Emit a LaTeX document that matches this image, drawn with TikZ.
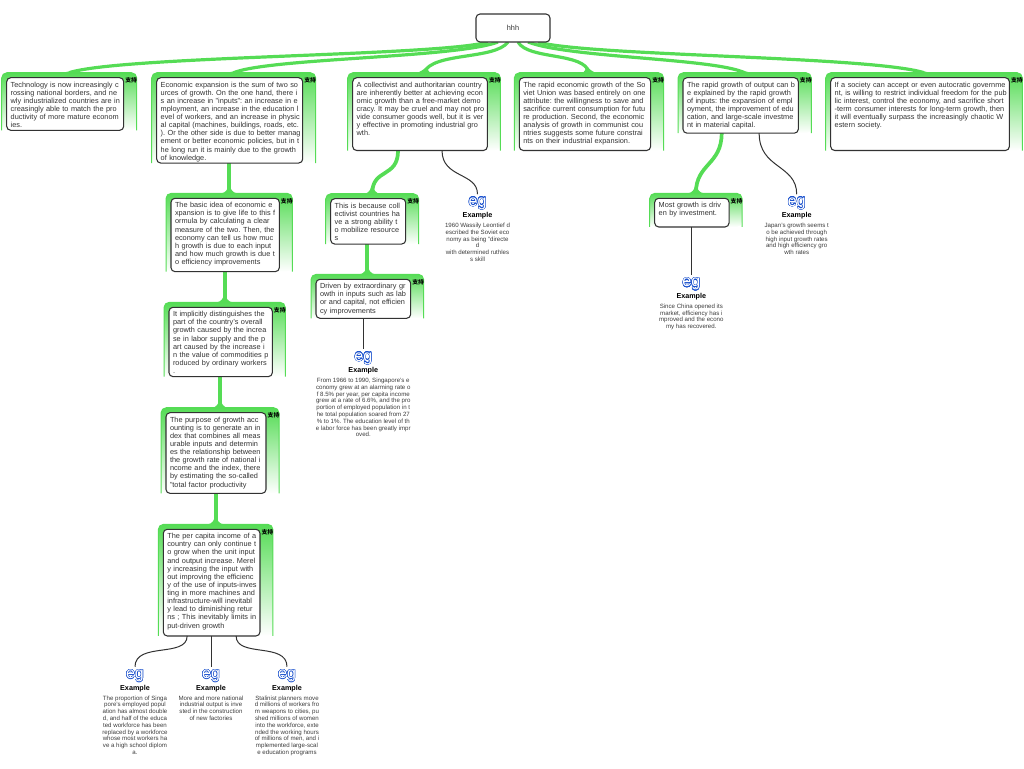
\documentclass[tikz,border=0pt]{standalone}
\usepackage{fontspec}
\setmainfont{Liberation Sans}
\newfontfamily\cjkfont{Noto Sans CJK SC}
\usepackage[copies]{contour}
\usetikzlibrary{positioning,backgrounds}
\definecolor{panelgreen}{RGB}{85,220,85}
\definecolor{egblue}{RGB}{25,80,205}
\definecolor{boxline}{RGB}{50,50,50}
\definecolor{egtextgray}{RGB}{60,60,60}
\contourlength{0.3pt}
\frenchspacing

\begin{document}
\begin{tikzpicture}[x=0.75pt, y=-0.75pt]
    \tikzstyle{rootbox} = [rectangle, draw=boxline, fill=white, rounded corners=3pt, line width=0.8pt,
        minimum width=55.5pt, minimum height=21pt, outer sep=0pt, text=black!80,
        font=\fontsize{5.5pt}{6.1pt}\selectfont]
    \tikzstyle{topic} = [rectangle, draw=boxline, fill=white, rounded corners=3pt, line width=0.8pt,
        anchor=north west, align=left, inner xsep=3pt, inner ysep=1pt, outer sep=0pt, text=black!80,
        font=\fontsize{5.5pt}{6.1pt}\selectfont,
        execute at begin node={\rightskip=-8pt plus 1fil\relax\rule{0pt}{6pt}}]
    \tikzstyle{tag} = [inner sep=0pt, font=\cjkfont\bfseries\fontsize{4.4pt}{4.4pt}\selectfont]
    \tikzstyle{egicon} = [inner sep=0pt, minimum height=10.5pt, text height=6.2pt, text depth=2.5pt,
        text=white, font=\fontsize{12pt}{12pt}\selectfont]
    \tikzstyle{eghead} = [inner sep=0pt, font=\bfseries\fontsize{5.4pt}{5.4pt}\selectfont]
    \tikzstyle{egtext} = [inner sep=0pt, align=center, text=egtextgray, font=\fontsize{4.6pt}{5.1pt}\selectfont]
    \tikzstyle{branch} = [panelgreen, line width=2.4pt]
    \tikzstyle{stem} = [panelgreen, line width=2.8pt]
    \tikzstyle{twig} = [boxline, line width=0.75pt]

    \useasboundingbox (0,0) rectangle (1024,768);

    \node [rootbox] (root) at (513,28) {hhh};

    \node [topic, text width=81.75pt, text depth=31.45pt] (tech) at (6.7,77.7)
        {Technology is now increasingly c\\rossing national borders, and ne\\wly industrialized countries are in\\creasingly able to match the pro\\ductivity of more mature econom\\ies.};
    \node [topic, text width=103.5pt, text depth=56pt] (expansion) at (156.7,77.7)
        {Economic expansion is the sum of two so\\urces of growth. On the one hand, there i\\s an increase in "inputs": an increase in e\\mployment, an increase in the education l\\evel of workers, and an increase in physic\\al capital (machines, buildings, roads, etc.\\). Or the other side is due to better manag\\ement or better economic policies, but in t\\he long run it is mainly due to the growth\\of knowledge.};
    \node [topic, text width=95pt, text depth=46.6pt] (collective) at (352.7,77.7)
        {A collectivist and authoritarian country\\are inherently better at achieving econ\\omic growth than a free-market demo\\cracy. It may be cruel and may not pro\\vide consumer goods well, but it is ver\\y effective in promoting industrial gro\\wth.};
    \node [topic, text width=92.5pt, text depth=46.6pt] (soviet) at (519.3,77.7)
        {The rapid economic growth of the So\\viet Union was based entirely on one\\attribute: the willingness to save and\\sacrifice current consumption for futu\\re production. Second, the economic\\analysis of growth in communist cou\\ntries suggests some future constrai\\nts on their industrial expansion.};
    \node [topic, text width=80.5pt, text depth=33.6pt] (output) at (683,77.7)
        {The rapid growth of output can b\\e explained by the rapid growth\\of inputs: the expansion of empl\\oyment, the improvement of edu\\cation, and large-scale investme\\nt in material capital.};
    \node [topic, text width=128pt, text depth=46.6pt] (society) at (830.7,77.7)
        {If a society can accept or even autocratic governme\\nt, is willing to restrict individual freedom for the pub\\lic interest, control the economy, and sacrifice short\\-term consumer interests for long-term growth, then\\it will eventually surpass the increasingly chaotic W\\estern society.};

    \node [topic, text width=75.25pt, text depth=47pt] (basic) at (171,198.3)
        {The basic idea of economic e\\xpansion is to give life to this f\\ormula by calculating a clear\\measure of the two. Then, the\\economy can tell us how muc\\h growth is due to each input\\and how much growth is due t\\o efficiency improvements};
    \node [topic, text width=71.5pt, text depth=44pt] (distinguish) at (169,307.3)
        {It implicitly distinguishes the\\part of the country's overall\\growth caused by the increa\\se in labor supply and the p\\art caused by the increase i\\n the value of commodities p\\roduced by ordinary workers\\.};
    \node [topic, text width=69pt, text depth=52.5pt] (accounting) at (166,412.7)
        {The purpose of growth acc\\ounting is to generate an in\\dex that combines all meas\\urable inputs and determin\\es the relationship between\\the growth rate of national i\\ncome and the index, there\\by estimating the so-called\\"total factor productivity};
    \node [topic, text width=66.5pt, text depth=72pt] (income) at (163.3,529.3)
        {The per capita income of a\\country can only continue t\\o grow when the unit input\\and output increase. Merel\\y increasing the input with\\out improving the efficienc\\y of the use of inputs-inves\\ting in more machines and\\infrastructure-will inevitabl\\y lead to diminishing retur\\ns ; This inevitably limits in\\put-driven growth};

    \node [topic, text width=50.25pt, text depth=26pt] (because) at (330.7,198.7)
        {This is because coll\\ectivist countries ha\\ve a strong ability t\\o mobilize resource\\s};
    \node [topic, text width=65pt, text depth=21.25pt] (driven) at (316,279.3)
        {Driven by extraordinary gr\\owth in inputs such as lab\\or and capital, not efficien\\cy improvements};
    \node [topic, text width=49.75pt, text depth=13.5pt] (investment) at (654.7,198.3)
        {Most growth is driv\\en by investment.};

    \node [egicon] (egproportion) at (135,674) {\raisebox{-1.6pt}{\contour{egblue}{eg}}};
    \node [eghead, below=2.6pt of egproportion] (headproportion) {Example};
    \node [egtext, below=2.5pt of headproportion] (textproportion)
        {The proportion of Singa\\pore's employed popul\\ation has almost double\\d, and half of the educa\\ted workforce has been\\replaced by a workforce\\whose most workers ha\\ve a high school diplom\\a.};
    \node [egicon] (egnational) at (211,674) {\raisebox{-1.6pt}{\contour{egblue}{eg}}};
    \node [eghead, below=2.6pt of egnational] (headnational) {Example};
    \node [egtext, below=2.5pt of headnational] (textnational)
        {More and more national\\industrial output is inve\\sted in the construction\\of new factories};
    \node [egicon] (egstalinist) at (287,674) {\raisebox{-1.6pt}{\contour{egblue}{eg}}};
    \node [eghead, below=2.6pt of egstalinist] (headstalinist) {Example};
    \node [egtext, below=2.5pt of headstalinist] (textstalinist)
        {Stalinist planners move\\d millions of workers fro\\m weapons to cities, pu\\shed millions of women\\into the workforce, exte\\nded the working hours\\of millions of men, and i\\mplemented large-scal\\e education programs};
    \node [egicon] (egleontief) at (477.5,201.5) {\raisebox{-1.6pt}{\contour{egblue}{eg}}};
    \node [eghead, below=2.6pt of egleontief] (headleontief) {Example};
    \node [egtext, below=2.5pt of headleontief] (textleontief)
        {1960 Wassily Leontief d\\escribed the Soviet eco\\nomy as being "directe\\d\\with determined ruthles\\s skill};
    \node [egicon] (egsingapore) at (363.3,356.5) {\raisebox{-1.6pt}{\contour{egblue}{eg}}};
    \node [eghead, below=2.6pt of egsingapore] (headsingapore) {Example};
    \node [egtext, below=2.5pt of headsingapore] (textsingapore)
        {From 1966 to 1990, Singapore's e\\conomy grew at an alarming rate o\\f 8.5\% per year, per capita income\\grew at a rate of 6.6\%, and the pro\\portion of employed population in t\\he total population soared from 27\\\% to 1\%. The education level of th\\e labor force has been greatly impr\\oved.};
    \node [egicon] (egchina) at (691.3,282.3) {\raisebox{-1.6pt}{\contour{egblue}{eg}}};
    \node [eghead, below=2.6pt of egchina] (headchina) {Example};
    \node [egtext, below=2.5pt of headchina] (textchina)
        {Since China opened its\\market, efficiency has i\\mproved and the econo\\my has recovered.};
    \node [egicon] (egjapan) at (796.7,201.5) {\raisebox{-1.6pt}{\contour{egblue}{eg}}};
    \node [eghead, below=2.6pt of egjapan] (headjapan) {Example};
    \node [egtext, below=2.5pt of headjapan] (textjapan)
        {Japan's growth seems t\\o be achieved through\\high input growth rates\\and high efficiency gro\\wth rates};

    \begin{scope}[on background layer]
    \foreach \n/\d/\h in {tech/22/4.6,expansion/15/4,collective/4/5.5,soviet/-3/5.5,output/-13/4,society/-22/4.6,basic/0/6,distinguish/0/6,accounting/0/6,income/0/6,because/0/6,driven/0/6,investment/0/6} {
        \coordinate (top\n) at ([shift={(4,-5)}]\n.north);
        \shade [top color=panelgreen, bottom color=white, rounded corners=4pt]
            ([shift={(-5,0)}]\n.south west) |- ([shift={(13,-5)}]\n.north east) -- ([shift={(13,0)}]\n.south east) -- cycle;
        \draw [panelgreen, line width=0.75pt, rounded corners=4pt]
            ([shift={(-5,0)}]\n.south west) |- ([shift={(13,-5)}]\n.north east) -- ([shift={(13,0)}]\n.south east);
        \fill [panelgreen] ([shift={(-8,0)}]top\n) .. controls ([shift={(-4,0)}]top\n) and ([shift={(\d*0.4-1,-\h*0.8)}]top\n) .. ([shift={(\d-1.5,-\h)}]top\n)
            -- ([shift={(\d+1.5,-\h)}]top\n) .. controls ([shift={(\d*0.4+1,-\h*0.8)}]top\n) and ([shift={(4,0)}]top\n) .. ([shift={(8,0)}]top\n) -- cycle;
        \node [tag] (tag\n) at ([shift={(7.5,2.5)}]\n.north east) {支持};
    }
    \draw [branch] ([shift={(-25,0)}]root.south) .. controls (440,56) and (120,56) .. (toptech);
    \draw [branch] ([shift={(-15,0)}]root.south) .. controls (455,58) and (270,58) .. (topexpansion);
    \draw [branch] ([shift={(-5,0)}]root.south) .. controls (495,60) and (432,52) .. (topcollective);
    \draw [branch] ([shift={(5,0)}]root.south) .. controls (528,60) and (585,52) .. (topsoviet);
    \draw [branch] ([shift={(15,0)}]root.south) .. controls (570,58) and (712,58) .. (topoutput);
    \draw [branch] ([shift={(25,0)}]root.south) .. controls (585,56) and (870,56) .. (topsociety);

    \draw [stem] (expansion.south -| topbasic) -- (topbasic);
    \draw [stem] (basic.south -| topdistinguish) -- (topdistinguish);
    \draw [stem] (distinguish.south -| topaccounting) -- (topaccounting);
    \draw [stem] (accounting.south -| topincome) -- (topincome);
    \draw [stem] (because.south -| topdriven) -- (topdriven);
    \draw [stem] ([shift={(-22,0)}]collective.south) .. controls +(0,28) and +(0,-26) .. (topbecause);
    \draw [stem] ([shift={(-19,0)}]output.south) .. controls +(0,32) and +(0,-30) .. (topinvestment);
    \end{scope}

    \draw [twig] ([shift={(-24.5,0)}]income.south) .. controls +(0,22) and +(0,-25) .. (egproportion.north);
    \draw [twig] (income.south -| egnational) -- (egnational.north);
    \draw [twig] ([shift={(24.5,0)}]income.south) .. controls +(0,22) and +(0,-25) .. (egstalinist.north);
    \draw [twig] ([shift={(22,0)}]collective.south) .. controls +(0,28) and +(0,-22) .. (egleontief.north);
    \draw [twig] (driven.south -| egsingapore) -- (egsingapore.north);
    \draw [twig] (investment.south -| egchina) -- (egchina.north);
    \draw [twig] ([shift={(18.5,0)}]output.south) .. controls +(0,36) and +(0,-30) .. (egjapan.north);
\end{tikzpicture}
\end{document}
